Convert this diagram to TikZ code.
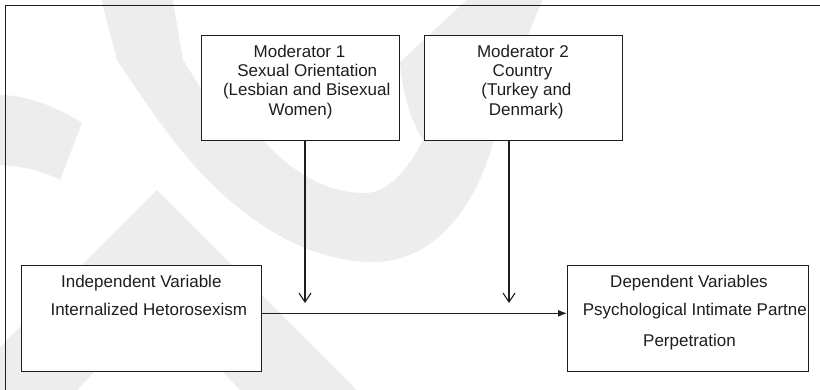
\documentclass[tikz,border=0pt]{standalone}
\usepackage{fontspec}
\setmainfont{Liberation Sans}
\usetikzlibrary{arrows.meta}
\definecolor{wm}{RGB}{237,237,237}
\definecolor{ink}{RGB}{30,30,30}
\tikzset{
  box/.style={draw=ink, line width=1.2pt, fill=white, inner sep=0pt, anchor=north west},
  txt/.style={inner sep=0pt, anchor=base, text=ink, font=\fontsize{17}{19}\selectfont},
  conn/.style={draw=ink, line width=1.2pt},
  modarrow/.style={conn, -{Straight Barb[length=9pt,width=12pt,line width=1.1pt]}},
  mainarrow/.style={conn, -{Latex[length=9pt,width=7pt]}},
  frame/.style={draw=ink, line width=1.3pt}
}
\begin{document}
\begin{tikzpicture}[x=1pt,y=-1pt]
\useasboundingbox (0,0) rectangle (820,389);
\begin{scope}
\clip (0,0) rectangle (820,389);
% faint watermark
\fill[wm] (100,-5) -- (117,60) .. controls (150,110) and (175,145) .. (200,172)
  .. controls (250,225) and (310,262) .. (373,262)
  .. controls (430,262) and (470,215) .. (490,153)
  .. controls (505,100) and (520,50) .. (545,-5)
  -- (472,-5) -- (400,62) .. controls (402,90) and (410,120) .. (423,140)
  .. controls (405,175) and (385,193) .. (365,193)
  .. controls (320,193) and (285,165) .. (263,140)
  .. controls (235,115) and (215,100) .. (200,87)
  -- (183,60) -- (172,-5) -- cycle;
\fill[wm] (-10,95) .. controls (20,93) and (55,105) .. (82,123) -- (60,180)
  .. controls (40,170) and (20,165) .. (-10,165) -- cycle;
\fill[wm] (157,190) -- (-20,367) -- (-20,400) -- (68,400) -- (157,305) -- (250,400) -- (367,400) -- cycle;
\end{scope}
% frame
\coordinate (fr1) at (5.5,400);
\coordinate (fr2) at (5.5,5.5);
\coordinate (fr3) at (830,5.5);
\draw[frame] (fr1) -- (fr2) -- (fr3);
% boxes
\node[box, minimum width=198pt, minimum height=105.5pt] (m1) at (200.5,34.5) {};
\node[box, minimum width=198pt, minimum height=105.5pt] (m2) at (424,34.5) {};
\node[box, minimum width=240.5pt, minimum height=105.5pt] (iv) at (20.5,265) {};
\node[box, minimum width=241pt, minimum height=105.5pt] (dv) at (567,265) {};
% texts
\node[txt] (m1a) at (299.5,57) {Moderator 1};
\node[txt] (m1b) at (307.3,76.5) {Sexual Orientation};
\node[txt] (m1c) at (306.7,95.5) {(Lesbian and Bisexual};
\node[txt] (m1d) at (300.5,115) {Women)};
\node[txt] (m2a) at (522.9,57) {Moderator 2};
\node[txt] (m2b) at (522.5,76.5) {Country};
\node[txt] (m2c) at (526.4,95.5) {(Turkey and};
\node[txt] (m2d) at (526.2,115) {Denmark)};
\node[txt] (iva) at (141.3,287.5) {Independent Variable};
\node[txt] (ivb) at (148.8,315) {Internalized Hetorosexism};
\node[txt] (dva) at (689,287.5) {Dependent Variables};
\node[txt, anchor=base west] (dvb) at (582.7,315) {Psychological Intimate Partne};
\node[txt] (dvc) at (689.5,346) {Perpetration};
% connectors
\coordinate (t1) at (305,303);
\coordinate (t2) at (509,303);
\coordinate (h) at (0,313.3);
\draw[modarrow] (m1.south -| t1) -- (t1);
\draw[modarrow] (m2.south -| t2) -- (t2);
\draw[mainarrow] (iv.east |- h) -- (dv.west |- h);
\end{tikzpicture}
\end{document}
